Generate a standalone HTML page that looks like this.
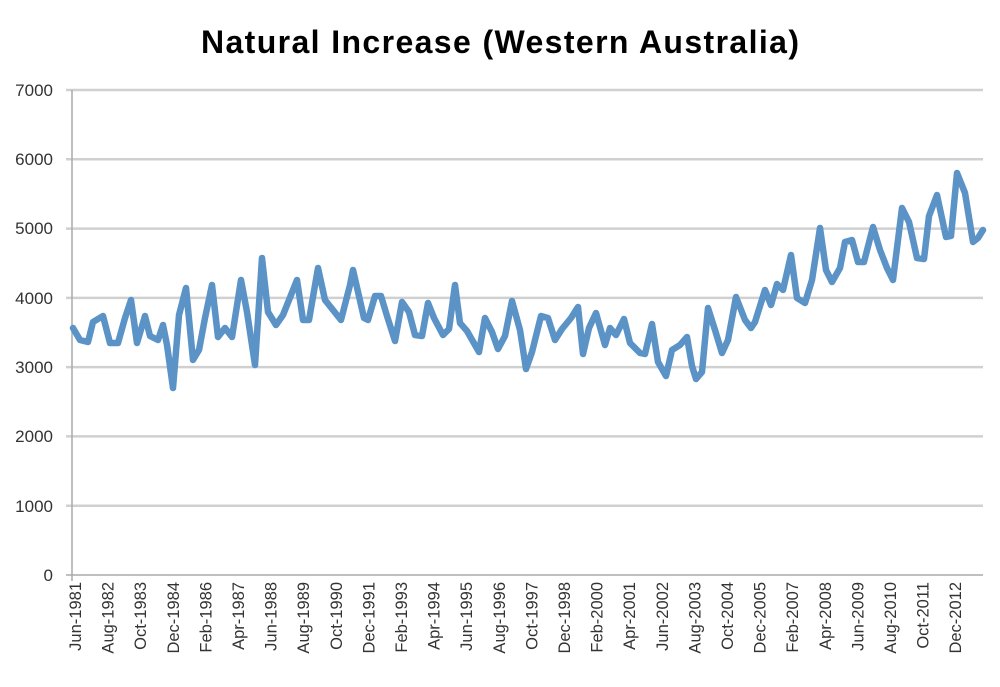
<!DOCTYPE html>
<html><head><style>body{margin:0;background:#fff}</style></head><body>
<svg width="1000" height="682" xmlns="http://www.w3.org/2000/svg" font-family="Liberation Sans, sans-serif">
<text x="500" y="53" text-anchor="middle" font-size="32" font-weight="bold" fill="#000" textLength="598">Natural Increase (Western Australia)</text>
<g stroke="#d0d0d0" stroke-width="2.5">
<line x1="66" y1="90" x2="983" y2="90"/><line x1="66" y1="159.3" x2="983" y2="159.3"/><line x1="66" y1="228.6" x2="983" y2="228.6"/><line x1="66" y1="297.9" x2="983" y2="297.9"/><line x1="66" y1="367.1" x2="983" y2="367.1"/><line x1="66" y1="436.4" x2="983" y2="436.4"/><line x1="66" y1="505.7" x2="983" y2="505.7"/>
</g>
<line x1="66" y1="575" x2="983" y2="575" stroke="#aaa" stroke-width="1.5"/>
<line x1="72" y1="90" x2="72" y2="581" stroke="#aaa" stroke-width="1.5"/>
<g font-size="17" text-anchor="end" fill="#333">
<text x="53" y="96">7000</text><text x="53" y="165">6000</text><text x="53" y="234">5000</text><text x="53" y="304">4000</text><text x="53" y="373">3000</text><text x="53" y="442">2000</text><text x="53" y="512">1000</text><text x="53" y="581">0</text>
</g>
<polyline fill="none" stroke="#5b93c7" stroke-width="6.5" stroke-linejoin="round" stroke-linecap="round" points="73,328 80,340 88,342 93,322 103,316 110,343 118,343 125,318 131,300 137,343 145,316 150,336 158,340 163,325 167,345 173,388 179,315 186,288 193,360 199,350 205,318 212,285 218,337 225,328 232,337 241,280 247,312 255,365 262,258 268,312 276,325 283,315 289,300 297,280 303,320 309,320 318,268 325,300 333,310 341,320 350,285 353,270 364,318 368,320 375,296 381,296 387,316 395,341 402,302 409,312 415,335 422,336 428,303 434,318 443,335 449,329 455,285 460,323 467,331 479,352 485,318 492,332 498,349 505,336 512,301 520,330 526,369 532,352 541,316 548,318 555,340 562,329 571,318 578,307 583,354 589,328 596,313 605,345 610,328 616,335 624,319 630,343 640,353 645,354 652,324 658,362 666,376 672,350 680,345 687,337 692,366 696,379 702,372 708,308 715,330 722,353 728,340 736,297 745,320 751,328 755,322 765,290 771,305 777,284 783,290 791,255 797,298 805,303 812,280 820,228 826,270 832,282 840,268 845,242 852,240 858,262 864,262 873,227 880,250 887,268 893,280 902,208 909,222 917,258 924,259 929,216 937,195 946,237 951,236 957,173 965,193 973,242 978,238 983,230"/>
<g font-size="16.5" fill="#333" text-anchor="end">
<text transform="translate(81,582) rotate(-90)">Jun-1981</text>
<text transform="translate(113.6,582) rotate(-90)">Aug-1982</text>
<text transform="translate(146.2,582) rotate(-90)">Oct-1983</text>
<text transform="translate(178.8,582) rotate(-90)">Dec-1984</text>
<text transform="translate(211.4,582) rotate(-90)">Feb-1986</text>
<text transform="translate(244,582) rotate(-90)">Apr-1987</text>
<text transform="translate(276.6,582) rotate(-90)">Jun-1988</text>
<text transform="translate(309.2,582) rotate(-90)">Aug-1989</text>
<text transform="translate(341.8,582) rotate(-90)">Oct-1990</text>
<text transform="translate(374.4,582) rotate(-90)">Dec-1991</text>
<text transform="translate(407,582) rotate(-90)">Feb-1993</text>
<text transform="translate(439.6,582) rotate(-90)">Apr-1994</text>
<text transform="translate(472.2,582) rotate(-90)">Jun-1995</text>
<text transform="translate(504.8,582) rotate(-90)">Aug-1996</text>
<text transform="translate(537.4,582) rotate(-90)">Oct-1997</text>
<text transform="translate(570,582) rotate(-90)">Dec-1998</text>
<text transform="translate(602.6,582) rotate(-90)">Feb-2000</text>
<text transform="translate(635.2,582) rotate(-90)">Apr-2001</text>
<text transform="translate(667.8,582) rotate(-90)">Jun-2002</text>
<text transform="translate(700.4,582) rotate(-90)">Aug-2003</text>
<text transform="translate(733,582) rotate(-90)">Oct-2004</text>
<text transform="translate(765.6,582) rotate(-90)">Dec-2005</text>
<text transform="translate(798.2,582) rotate(-90)">Feb-2007</text>
<text transform="translate(830.8,582) rotate(-90)">Apr-2008</text>
<text transform="translate(863.4,582) rotate(-90)">Jun-2009</text>
<text transform="translate(896,582) rotate(-90)">Aug-2010</text>
<text transform="translate(928.6,582) rotate(-90)">Oct-2011</text>
<text transform="translate(961.2,582) rotate(-90)">Dec-2012</text>
</g>
</svg>
</body></html>
